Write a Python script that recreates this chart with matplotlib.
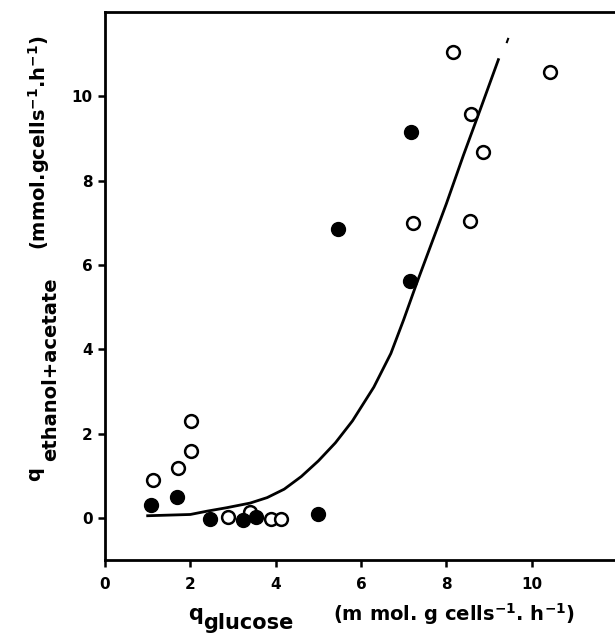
import numpy as np
import matplotlib
matplotlib.use("Agg")
import matplotlib.pyplot as plt

# open circles
open_x = [1.13, 1.70, 2.02, 2.02, 2.89, 3.40, 3.88, 4.13, 8.16, 10.44, 8.57, 8.87, 7.22, 8.55]
open_y = [0.90, 1.19, 1.58, 2.30, 0.02, 0.15, -0.02, -0.02, 11.06, 10.57, 9.57, 8.68, 7.00, 7.04]

# filled circles
fill_x = [1.08, 1.68, 2.46, 3.24, 3.54, 5.00, 7.17, 5.46, 7.15]
fill_y = [0.30, 0.50, -0.02, -0.04, 0.02, 0.09, 9.16, 6.86, 5.61]

# fitted curve
curve_x = [1.0, 2.0, 2.4, 2.85, 3.4, 3.8, 4.2, 4.6, 5.0, 5.4, 5.8, 6.3, 6.7, 7.0,
           7.3, 7.65, 8.0, 8.4, 8.8, 9.22]
curve_y = [0.05, 0.08, 0.16, 0.24, 0.35, 0.48, 0.68, 0.98, 1.35, 1.78, 2.3, 3.1, 3.9, 4.7,
           5.55, 6.5, 7.45, 8.6, 9.7, 10.87]
tail_x = [9.42]
tail_y = [11.34]

xticks = [0, 2, 4, 6, 8, 10]
yticks = [0, 2, 4, 6, 8, 10]

plt.rcParams['font.family'] = ['DejaVu Sans']
plt.rcParams['font.weight'] = 'bold'
plt.rcParams['mathtext.fontset'] = 'dejavusans'

W, H = 615, 637
fig = plt.figure(figsize=(W / 100, H / 100), dpi=100)
ax = fig.add_axes([105 / W, 77 / H, 512 / W, 548 / H])

ax.plot(curve_x, curve_y, color='black', lw=2.0, solid_joinstyle='round', zorder=2)
ax.plot(tail_x, tail_y, ls='none', marker=(2, 0, -20), ms=4, mew=1.5, color='black')
ax.plot(open_x, open_y, ls='none', marker='o', ms=9.2, mfc='white', mec='black', mew=1.8, zorder=3)
ax.plot(fill_x, fill_y, ls='none', marker='o', ms=10, mfc='black', mec='black', zorder=4)

ax.set_xlim(0, 12)
ax.set_ylim(-1, 12)
ax.set_xticks(xticks)
ax.set_yticks(yticks)
ax.spines['right'].set_visible(False)
for s in ['left', 'top', 'bottom']:
    ax.spines[s].set_linewidth(2.0)
ax.tick_params(axis='both', direction='out', length=5, width=1.8, labelsize=11)
ax.tick_params(axis='x', pad=7)
ax.tick_params(axis='y', pad=4)
for lab in ax.get_xticklabels() + ax.get_yticklabels():
    lab.set_fontweight('bold')

def px(x, y):
    return x / W, 1 - y / H

units_x = r'(m mol. g cells$^{\mathbf{-1}}$. h$^{\mathbf{-1}}$)'
units_y = r'(mmol.gcells$^{\mathbf{-1}}$.h$^{\mathbf{-1}}$)'

# x label
fig.text(*px(188, 620), 'q', fontsize=15, fontweight='bold', ha='left', va='baseline')
fig.text(*px(203, 629), 'glucose', fontsize=15, fontweight='bold', ha='left', va='baseline')
fig.text(*px(333, 621), units_x, fontsize=14, fontweight='bold', ha='left', va='baseline')

# y label
fig.text(*px(40, 481), 'q', fontsize=14, fontweight='bold', rotation=90,
         rotation_mode='anchor', ha='left', va='baseline')
fig.text(*px(56, 461), 'ethanol+acetate', fontsize=14, fontweight='bold', rotation=90,
         rotation_mode='anchor', ha='left', va='baseline')
fig.text(*px(46, 250), units_y, fontsize=14, fontweight='bold', rotation=90,
         rotation_mode='anchor', ha='left', va='baseline')

fig.savefig('out.png', dpi=100)
